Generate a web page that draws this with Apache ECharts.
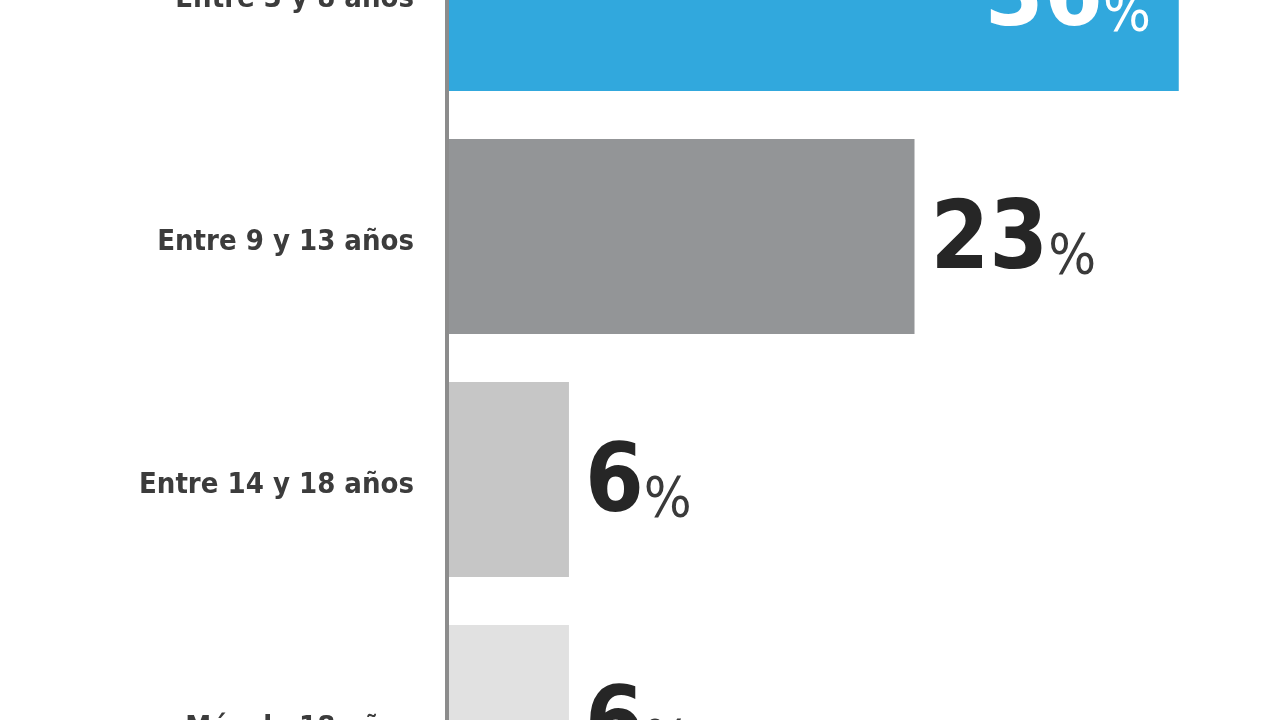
<!DOCTYPE html>
<html>
<head>
<meta charset="utf-8">
<style>
html,body{margin:0;padding:0;background:#fff;overflow:hidden;width:1280px;height:720px;}
#c{position:absolute;left:0;top:-128px;width:1280px;height:972px;}
</style>
<script src="https://cdn.jsdelivr.net/npm/echarts@6/dist/echarts.min.js"></script>
</head>
<body>
<div id="c"></div>
<script>
var categories = ['Entre 3 y 8 años', 'Entre 9 y 13 años', 'Entre 14 y 18 años', 'Más de 18 años'];
var values = [36, 23, 6, 6];
var barColors = ['#31a8dd', '#939597', '#c6c6c6', '#e1e1e1'];

var numFont = "'Liberation Sans Narrow', 'DejaVu Sans Condensed', sans-serif";
var chart = echarts.init(document.getElementById('c'));

var data = values.map(function (v, i) {
  var inside = i === 0;
  return {
    value: v,
    itemStyle: { color: barColors[i] },
    label: {
      show: true,
      position: inside ? 'insideRight' : 'right',
      distance: inside ? 28 : 16,
      offset: [0, 4],
      formatter: '{a|' + v + '}{b|%}',
      rich: {
        a: { fontFamily: numFont, fontWeight: 'bold', fontSize: 94, color: inside ? '#ffffff' : '#262626', lineHeight: 100, verticalAlign: 'bottom' },
        b: { fontFamily: numFont, fontWeight: 'normal', fontSize: 56, color: inside ? '#ffffff' : '#3a3a3a', lineHeight: 100, verticalAlign: 'bottom', padding: [0, 0, 4, 0] }
      }
    }
  };
});

chart.setOption({
  animation: false,
  backgroundColor: '#ffffff',
  grid: { left: 447, right: 24, top: 0, bottom: 0, containLabel: false },
  xAxis: {
    type: 'value', min: 0, max: 39.8,
    show: false,
    splitLine: { show: false }
  },
  yAxis: {
    type: 'category',
    data: categories,
    inverse: true,
    z: 5,
    axisLine: { show: true, lineStyle: { color: '#8c8c8c', width: 4 } },
    axisTick: { show: false },
    axisLabel: {
      margin: 33,
      verticalAlign: 'top',
      lineHeight: 12,
      fontFamily: "'DejaVu Sans Condensed', sans-serif",
      fontWeight: 'bold',
      fontSize: 29,
      color: '#3c3c3c'
    }
  },
  series: [{
    type: 'bar',
    data: data,
    barWidth: 195
  }]
});
</script>
</body>
</html>
